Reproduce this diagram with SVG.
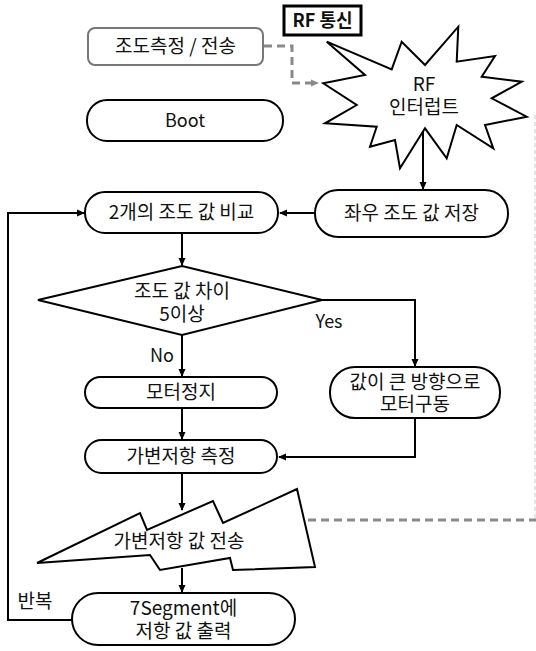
<svg xmlns="http://www.w3.org/2000/svg" width="536" height="651" viewBox="0 0 536 651">
<defs>
<marker id="ah" markerWidth="8" markerHeight="8" refX="7" refY="4" orient="auto" markerUnits="userSpaceOnUse">
<path d="M0,0.5 L8,4 L0,7.5 Z" fill="#000"/>
</marker>
<marker id="ahg" markerWidth="8" markerHeight="8" refX="7" refY="4" orient="auto" markerUnits="userSpaceOnUse">
<path d="M0,0.5 L8,4 L0,7.5 Z" fill="#8a8a8a"/>
</marker>
<style>
.n{fill:#fff;stroke:#000;stroke-width:2}
.t{font-family:"Noto Sans CJK KR","Noto Sans",sans-serif;font-size:19px;fill:#111;text-anchor:middle}
.s{font-size:18px}
.c{fill:none;stroke:#000;stroke-width:2}
.d{fill:none;stroke:#8a8a8a;stroke-width:3;stroke-dasharray:8,5}
</style>
</defs>
<rect width="536" height="651" fill="#fff"/>

<g id="edges">
<line x1="535" y1="115" x2="535" y2="520" stroke="#dcdcdc" stroke-width="1.5" stroke-dasharray="4,3"/>
<path class="d" d="M308,520 H536"/>
<path class="d" d="M264,46 H292 V83 H318" marker-end="url(#ahg)"/>
<path class="c" d="M423,128 V189" marker-end="url(#ah)"/>
<path class="c" d="M315,213 H280" marker-end="url(#ah)"/>
<path class="c" d="M182,233 V265" marker-end="url(#ah)"/>
<path class="c" d="M322,300 H415 V366" marker-end="url(#ah)"/>
<path class="c" d="M182,335 V376" marker-end="url(#ah)"/>
<path class="c" d="M182,408 V439" marker-end="url(#ah)"/>
<path class="c" d="M415,418 V457 H279" marker-end="url(#ah)"/>
<path class="c" d="M182,473 V510" marker-end="url(#ah)"/>
<path class="c" d="M182,568 V592" marker-end="url(#ah)"/>
<path class="c" d="M72,620 H8 V213 H84" marker-end="url(#ah)"/>
</g>

<g id="sensor">
<rect x="88" y="28" width="175" height="37" rx="7" fill="#fff" stroke="#777" stroke-width="2"/>
<text class="t" x="175.5" y="53">조도측정 / 전송</text>
</g>

<g id="rf-label">
<rect x="284" y="6" width="77" height="29" fill="#fff" stroke="#000" stroke-width="3"/>
<text class="t s" x="322.5" y="27" style="font-weight:bold">RF 통신</text>
</g>

<g id="rf-interrupt">
<polygon class="n" points="326.7,41.7 391.7,69.3 401.7,41.7 425,65 458.3,26.7 456.7,61.7 495,56 481.7,76.7 521.7,81.7 491.7,98.3 526.7,116.7 485,125 493.3,148.3 456.7,125 446.7,158.3 425,128.3 400,168.3 395,140 370,146.7 376.7,126.7 325,123.3 356.7,105 323.3,83.3 365,75"/>
<text class="t" x="424" y="91">RF</text>
<text class="t" x="424" y="114">인터럽트</text>
</g>

<g id="boot">
<rect class="n" x="87" y="100" width="196" height="41" rx="20"/>
<text class="t s" x="185" y="127">Boot</text>
</g>

<g id="compare">
<rect class="n" x="85" y="192" width="193" height="41" rx="20"/>
<text class="t" x="181.5" y="219">2개의 조도 값 비교</text>
</g>

<g id="store">
<rect class="n" x="315" y="190" width="193" height="47" rx="23"/>
<text class="t" x="411.5" y="220">좌우 조도 값 저장</text>
</g>

<g id="decision">
<polygon class="n" points="182,266 322,300 182,335 38,300"/>
<text class="t" x="182" y="298">조도 값 차이</text>
<text class="t" x="182" y="321">5이상</text>
</g>

<g id="labels">
<text class="t s" x="329" y="328">Yes</text>
<text class="t s" x="162" y="362">No</text>
<text class="t" x="35" y="608">반복</text>
</g>

<g id="stop">
<rect class="n" x="85" y="377" width="192" height="31" rx="15.5"/>
<text class="t" x="181" y="399">모터정지</text>
</g>

<g id="drive">
<rect class="n" x="330" y="367" width="170" height="51" rx="25"/>
<text class="t" x="415" y="389">값이 큰 방향으로</text>
<text class="t" x="415" y="411">모터구동</text>
</g>

<g id="measure">
<rect class="n" x="85" y="440" width="192" height="33" rx="16.5"/>
<text class="t" x="181" y="463">가변저항 측정</text>
</g>

<g id="transmit">
<polygon class="n" points="37,563 140,513 147,530 213,501 223,523 297,489 315,567 233,570 230,558 160,570 150,555"/>
<text class="t" x="179" y="548">가변저항 값 전송</text>
</g>

<g id="display">
<rect class="n" x="72" y="593" width="223" height="52" rx="26"/>
<text class="t" x="183.5" y="615">7Segment에</text>
<text class="t" x="183.5" y="638">저항 값 출력</text>
</g>
</svg>
